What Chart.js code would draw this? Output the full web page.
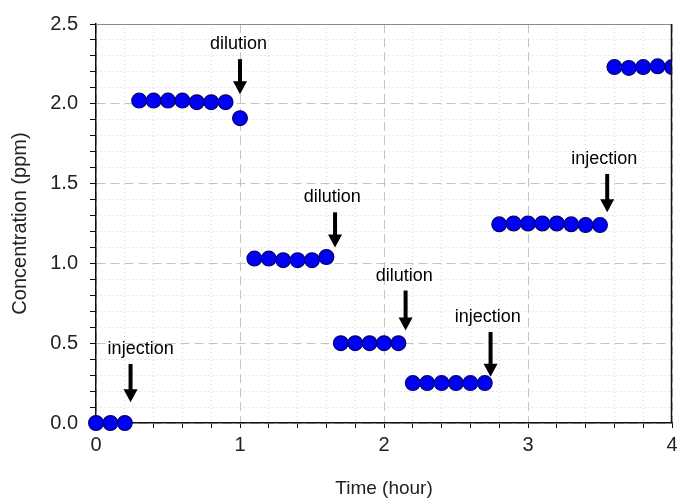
<!DOCTYPE html>
<html>
<head>
<meta charset="utf-8">
<script src="https://cdn.jsdelivr.net/npm/chart.js@4"></script>
<style>
  body { margin: 0; background: #fff; }
</style>
</head>
<body>
<canvas id="graficoConcentracao" width="678" height="503"></canvas>
<script>
// time (hour) and concentration (ppm)
const timeHours = [0, 0.1, 0.2,
  0.3, 0.4, 0.5, 0.6, 0.7, 0.8, 0.9, 1.0,
  1.1, 1.2, 1.3, 1.4, 1.5, 1.6,
  1.7, 1.8, 1.9, 2.0, 2.1,
  2.2, 2.3, 2.4, 2.5, 2.6, 2.7,
  2.8, 2.9, 3.0, 3.1, 3.2, 3.3, 3.4, 3.5,
  3.6, 3.7, 3.8, 3.9, 4.0];
const concentration = [0, 0, 0,
  2.02, 2.02, 2.02, 2.02, 2.01, 2.01, 2.01, 1.91,
  1.03, 1.03, 1.02, 1.02, 1.02, 1.04,
  0.50, 0.50, 0.50, 0.50, 0.50,
  0.25, 0.25, 0.25, 0.25, 0.25, 0.25,
  1.245, 1.25, 1.25, 1.25, 1.25, 1.245, 1.24, 1.24,
  2.23, 2.225, 2.23, 2.235, 2.23];

// annotations: label, arrow x, arrow tail / tip (ppm), label x
const noteLabels = ["injection", "dilution", "dilution", "dilution", "injection", "injection"];
const noteX      = [0.24, 1.0, 1.66, 2.15, 2.74, 3.55];
const noteTail   = [0.37, 2.28, 1.32, 0.83, 0.57, 1.56];
const noteTip    = [0.13, 2.06, 1.10, 0.58, 0.29, 1.32];
const noteTextX  = [0.31, 0.99, 1.64, 2.14, 2.72, 3.53];

const isMajorY = v => Math.abs(v * 2 - Math.round(v * 2)) < 1e-6;
const isMajorX = v => Math.abs(v - Math.round(v)) < 1e-6;

const frameAndNotes = {
  id: "frameAndNotes",
  afterDatasetsDraw(chart) {
    const { ctx, chartArea: a, scales: { x, y } } = chart;
    ctx.save();
    // top and right edges of the box
    ctx.lineWidth = 1;
    ctx.strokeStyle = "#8a8a8a";
    ctx.beginPath();
    ctx.moveTo(a.left, a.top + 0.5);
    ctx.lineTo(a.right, a.top + 0.5);
    ctx.stroke();
    ctx.strokeStyle = "#111";
    ctx.lineWidth = 1.5;
    ctx.beginPath();
    ctx.moveTo(a.right - 0.5, a.top);
    ctx.lineTo(a.right - 0.5, a.bottom);
    ctx.stroke();

    // arrows + labels
    ctx.fillStyle = "#000";
    ctx.strokeStyle = "#000";
    ctx.font = "18px 'Liberation Sans', Arial, sans-serif";
    ctx.textAlign = "center";
    ctx.textBaseline = "middle";
    noteLabels.forEach((lab, i) => {
      const px = x.getPixelForValue(noteX[i]);
      const top = y.getPixelForValue(noteTail[i]);
      const tip = y.getPixelForValue(noteTip[i]);
      ctx.lineWidth = 4;
      ctx.beginPath();
      ctx.moveTo(px, top);
      ctx.lineTo(px, tip - 10);
      ctx.stroke();
      ctx.beginPath();
      ctx.moveTo(px - 7, tip - 13);
      ctx.lineTo(px + 7, tip - 13);
      ctx.lineTo(px, tip);
      ctx.closePath();
      ctx.fill();
      ctx.fillText(lab, x.getPixelForValue(noteTextX[i]), top - 15);
    });
    ctx.restore();
  }
};

const ctx = document.getElementById("graficoConcentracao").getContext("2d");
new Chart(ctx, {
  type: "scatter",
  data: {
    datasets: [{
      label: "Concentration",
      data: timeHours.map((t, i) => ({ x: t, y: concentration[i] })),
      backgroundColor: "#0000f5",
      borderColor: "#000070",
      borderWidth: 1.2,
      pointRadius: 7.4,
      pointHoverRadius: 7.4,
      clip: { left: false, top: false, right: 0, bottom: false }
    }]
  },
  options: {
    responsive: false,
    animation: false,
    layout: { autoPadding: false, padding: { top: 22, right: 6, left: 0, bottom: 0 } },
    plugins: {
      legend: { display: false },
      tooltip: { enabled: false }
    },
    scales: {
      x: {
        type: "linear",
        min: 0,
        max: 4,
        afterFit(scale) {
          scale.height = 80;
          scale.paddingLeft = 0;
          scale.paddingRight = 0;
        },
        ticks: {
          stepSize: 0.2,
          autoSkip: false,
          maxRotation: 0,
          padding: 5,
          color: "#222",
          font: { family: "'Liberation Sans', Arial, sans-serif", size: 20 },
          callback: v => isMajorX(v) ? String(Math.round(v)) : ""
        },
        grid: {
          color: c => isMajorX(c.tick.value) ? "#c4c4c4" : "#d6d6d6",
          lineWidth: 1,
          tickColor: "#111",
          tickLength: 5
        },
        border: {
          color: "#111",
          width: 1.5,
          dash: c => isMajorX(c.tick.value) ? [9, 5] : [1, 3]
        },
        title: {
          display: true,
          text: "Time (hour)",
          color: "#222",
          font: { family: "'Liberation Sans', Arial, sans-serif", size: 19 },
          padding: { top: 0, bottom: 3 }
        }
      },
      y: {
        min: 0,
        max: 2.5,
        afterFit(scale) { scale.width = 96; },
        ticks: {
          stepSize: 0.1,
          autoSkip: false,
          padding: 12,
          color: "#222",
          font: { family: "'Liberation Sans', Arial, sans-serif", size: 20 },
          callback: v => isMajorY(v) ? v.toFixed(1) : ""
        },
        grid: {
          color: c => isMajorY(c.tick.value) ? "#c4c4c4" : "#d6d6d6",
          lineWidth: 1,
          tickColor: "#111",
          tickLength: 6
        },
        border: {
          color: "#111",
          width: 1.5,
          dash: c => isMajorY(c.tick.value) ? [9, 5] : [1, 3]
        },
        title: {
          display: true,
          text: "Concentration (ppm)",
          color: "#222",
          font: { family: "'Liberation Sans', Arial, sans-serif", size: 20 },
          padding: { top: 8, bottom: 0 }
        }
      }
    }
  },
  plugins: [frameAndNotes]
});
</script>
</body>
</html>
